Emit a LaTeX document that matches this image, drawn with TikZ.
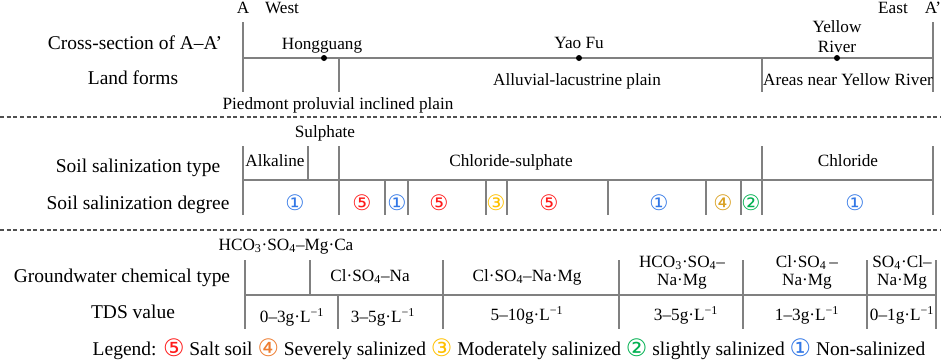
\documentclass[tikz,border=0pt]{standalone}
\usepackage{fontspec}
\setmainfont{Liberation Serif}
\newfontfamily\circulos{DejaVu Sans}
\definecolor{tinta}{HTML}{000000}
\definecolor{gris}{HTML}{808080}
\definecolor{grisosc}{HTML}{505050}
\definecolor{rojo}{HTML}{FF1A1A}
\definecolor{naranja}{HTML}{ED7D31}
\definecolor{oro}{HTML}{D9A021}
\definecolor{amarillo}{HTML}{FFC000}
\definecolor{verde}{HTML}{00B050}
\definecolor{azul}{HTML}{3378E6}
% número en círculo de la leyenda (más grande que el texto)
\newcommand{\circley}[2]{\raisebox{-0.8pt}{\circulos\fontsize{18}{19}\selectfont\color{#1}#2}}
\tikzset{
  % Trazo de la tabla: separadores de celdas y perfil A--A'
  linea/.style  = {line width=1pt, color=gris},
  % Cortes entre bloques (líneas discontinuas de lado a lado)
  corte/.style  = {line width=0.8pt, color=grisosc, dash pattern=on 3pt off 2pt},
  % Rótulos de fila (columna izquierda) y leyenda
  rotulo/.style = {font=\fontsize{14.6}{17}\selectfont, anchor=base, inner sep=0pt},
  % Texto dentro de las celdas
  celda/.style  = {font=\fontsize{12.9}{14}\selectfont, anchor=base, inner sep=0pt},
  % Grado de salinización: número en círculo
  grado/.style  = {font=\circulos\fontsize{16}{18}\selectfont, inner sep=0pt},
  % Localidades sobre el perfil
  punto/.style  = {circle, fill=tinta, inner sep=0pt, minimum size=4.5pt},
  every node/.style = {color=tinta},
}

\begin{document}
\begin{tikzpicture}[x=0.75pt, y=-0.75pt]
  \useasboundingbox (0,0) rectangle (941,362);

  % ============================================================
  % BLOQUE 1: perfil A--A' y formas del relieve
  % ============================================================
  \coordinate (A)  at (243,58);
  \coordinate (A2) at (933,58);     % extremo este (A')
  \coordinate (H)  at (324,58);     % Hongguang
  \coordinate (Y)  at (579,58);     % Yao Fu
  \coordinate (R)  at (837,58);     % Yellow River

  \draw[linea] (243,22) -- (243,92);
  \draw[linea] (933,22) -- (933,92);
  \draw[linea] (A) -- (A2);
  \draw[linea] (339,58) -- (339,92);
  \draw[linea] (762,58) -- (762,92);

  \node[punto] (pH) at (H) {};  \node[celda] (nH) at (322,49) {Hongguang};
  \node[punto] (pY) at (Y) {};  \node[celda] (nY) at (579,48) {Yao Fu};
  \node[punto] (pR) at (R) {};
  \node[celda] (nR1) at (837,32) {Yellow};
  \node[celda] (nR2) at (837,52) {River};

  \node[celda] (nA)  at (243,13) {A};
  \node[celda] (nW)  at (282,13) {West};
  \node[celda] (nE)  at (893,13) {East};
  \node[celda] (nA2) at (933,13) {A’};

  \node[rotulo] (fCorte)   at (135,49) {Cross-section of A–A’};
  \node[rotulo] (fRelieve) at (133,84) {Land forms};

  \node[celda] (rPie) at (338,109) {Piedmont proluvial inclined plain};
  \node[celda] (rAlu) at (577,85)  {Alluvial-lacustrine plain};
  \node[celda] (rRio) at (848,85)  {Areas near Yellow River};

  \draw[corte] (0,117) -- (941,117);

  % ============================================================
  % BLOQUE 2: tipo y grado de salinización del suelo
  % ============================================================
  \draw[linea] (243,146) -- (243,215);
  \draw[linea] (308,146) -- (308,180);
  \draw[linea] (339,146) -- (339,215);
  \draw[linea] (762,146) -- (762,215);
  \draw[linea] (933,146) -- (933,215);
  \draw[linea] (243,180) -- (933,180);
  \draw[linea] (385,180) -- (385,215);  \draw[linea] (408,180) -- (408,215);
  \draw[linea] (486,180) -- (486,215);  \draw[linea] (507,180) -- (507,215);
  \draw[linea] (608,180) -- (608,215);  \draw[linea] (706,180) -- (706,215);
  \draw[linea] (741,180) -- (741,215);

  \node[rotulo] (fTipo)  at (138,172) {Soil salinization type};
  \node[rotulo] (fGrado) at (138,209) {Soil salinization degree};

  \node[celda] (tSul) at (325,137) {Sulphate};
  \node[celda] (tAlc) at (275,166) {Alkaline};
  \node[celda] (tCS)  at (511,166) {Chloride-sulphate};
  \node[celda] (tClo) at (848,166) {Chloride};

  \node[grado, text=azul]     (g1) at (295,203) {①};
  \node[grado, text=rojo]     (g2) at (362,203) {⑤};
  \node[grado, text=azul]     (g3) at (397,203) {①};
  \node[grado, text=rojo]     (g4) at (439,203) {⑤};
  \node[grado, text=amarillo] (g5) at (496,203) {③};
  \node[grado, text=rojo]     (g6) at (549,203) {⑤};
  \node[grado, text=azul]     (g7) at (659,203) {①};
  \node[grado, text=oro]      (g8) at (723,203) {④};
  \node[grado, text=verde]    (g9) at (751,203) {②};
  \node[grado, text=azul]     (g10) at (855,203) {①};

  \draw[corte] (0,230) -- (941,230);

  % ============================================================
  % BLOQUE 3: tipo químico del agua subterránea y TDS
  % ============================================================
  \draw[linea] (245,260) -- (245,329);
  \draw[linea] (310,260) -- (310,295);
  \draw[linea] (443,260) -- (443,329);
  \draw[linea] (619,260) -- (619,329);
  \draw[linea] (743,260) -- (743,329);
  \draw[linea] (867,260) -- (867,329);
  \draw[linea] (936,260) -- (936,329);
  \draw[linea] (245,295) -- (936,295);
  \draw[linea] (338,295) -- (338,329);

  \node[rotulo] (fQuim) at (122,282) {Groundwater chemical type};
  \node[rotulo] (fTDS)  at (133,318) {TDS value};

  \node[celda] (q1) at (286,250) {HCO\textsubscript{3}·SO\textsubscript{4}–Mg·Ca};
  \node[celda] (q2) at (370,281) {Cl·SO\textsubscript{4}–Na};
  \node[celda] (q3) at (527,281) {Cl·SO\textsubscript{4}–Na·Mg};
  \node[celda] (q4a) at (682,267) {HCO\textsubscript{3}·SO\textsubscript{4}–};
  \node[celda] (q4b) at (682,285) {Na·Mg};
  \node[celda] (q5a) at (807,267) {Cl·SO\textsubscript{4}\,–};
  \node[celda] (q5b) at (807,285) {Na·Mg};
  \node[celda] (q6a) at (902,267) {SO\textsubscript{4}·Cl–};
  \node[celda] (q6b) at (902,285) {Na·Mg};

  \node[celda] (s1) at (292,322) {0–3g·L\textsuperscript{−1}};
  \node[celda] (s2) at (383,322) {3–5g·L\textsuperscript{−1}};
  \node[celda] (s3) at (527,320) {5–10g·L\textsuperscript{−1}};
  \node[celda] (s4) at (686,320) {3–5g·L\textsuperscript{−1}};
  \node[celda] (s5) at (807,320) {1–3g·L\textsuperscript{−1}};
  \node[celda] (s6) at (902,320) {0–1g·L\textsuperscript{−1}};

  % Leyenda
  \node[rotulo] (ley) at (509,355) {Legend:
    \circley{rojo}{⑤} Salt soil
    \circley{naranja}{④} Severely salinized
    \circley{amarillo}{③} Moderately salinized
    \circley{verde}{②} slightly salinized
    \circley{azul}{①} Non-salinized};

\end{tikzpicture}
\end{document}
